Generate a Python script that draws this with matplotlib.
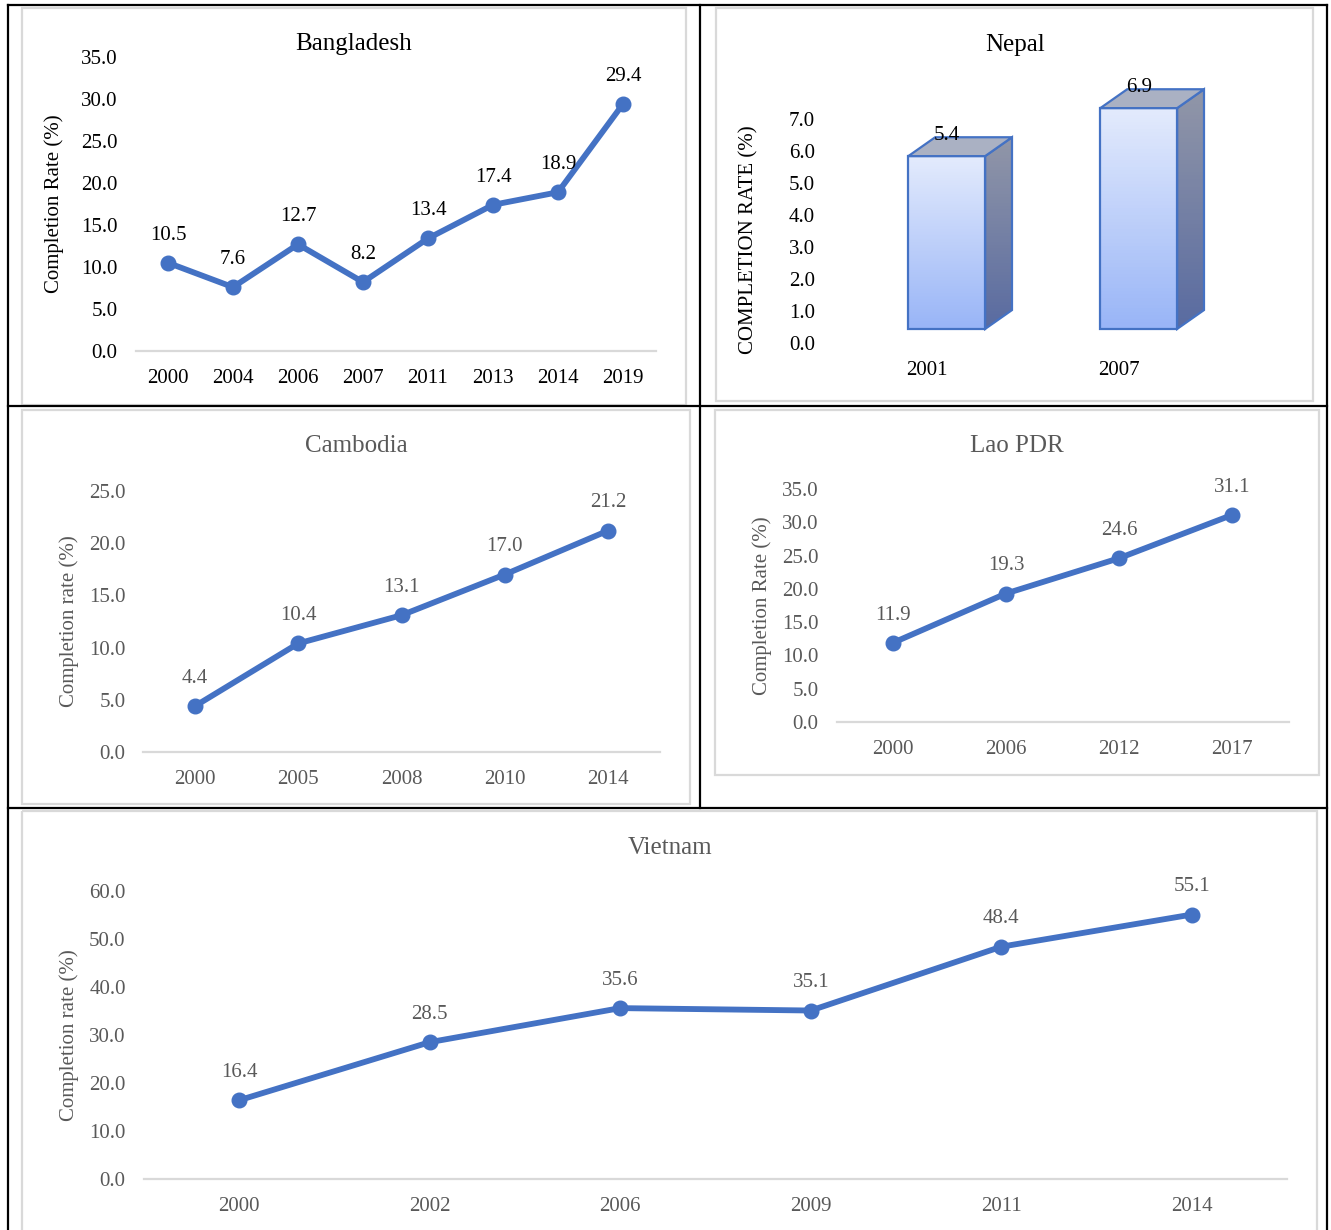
import numpy as np
import matplotlib.pyplot as plt
from matplotlib.patches import Polygon, Rectangle

plt.rcParams['font.family'] = ['Liberation Serif', 'DejaVu Serif']

W, H = 1331, 1230

# data
bd_years = ['2000', '2004', '2006', '2007', '2011', '2013', '2014', '2019']
bd_rate = [10.5, 7.6, 12.7, 8.2, 13.4, 17.4, 18.9, 29.4]
np_years = ['2001', '2007']
np_rate = [5.4, 6.9]
kh_years = ['2000', '2005', '2008', '2010', '2014']
kh_rate = [4.4, 10.4, 13.1, 17.0, 21.2]
la_years = ['2000', '2006', '2012', '2017']
la_rate = [11.9, 19.3, 24.6, 31.1]
vn_years = ['2000', '2002', '2006', '2009', '2011', '2014']
vn_rate = [16.4, 28.5, 35.6, 35.1, 48.4, 55.1]

BLUE = '#4472C4'
GRAY = '#595959'
GRID = '#d9d9d9'
FS = 15

fig = plt.figure(figsize=(W / 100, H / 100), dpi=100)
bg = fig.add_axes([0, 0, 1, 1], zorder=-1)
bg.set_xlim(0, W)
bg.set_ylim(H, 0)
bg.axis('off')


def px_axes(x0, y0, x1, y1):
    return fig.add_axes([x0 / W, 1 - y1 / H, (x1 - x0) / W, (y1 - y0) / H])


def line_panel(box, years, rate, ymax, step, title, ylabel, title_xy, ylab_x, col):
    ax = px_axes(*box)
    n = len(years)
    ax.set_facecolor('none')
    ax.set_xlim(-0.5, n - 0.5)
    ax.set_ylim(0, ymax)
    ax.axhline(0, color=GRID, lw=1.6, zorder=0, clip_on=False)
    ax.plot(range(n), rate, color=BLUE, lw=4.2, marker='o', ms=10.5,
            clip_on=False, solid_joinstyle='round', zorder=3)
    for i, v in enumerate(rate):
        ax.annotate(f'{v:.1f}', (i, v), xytext=(0, 20), textcoords='offset points',
                    ha='center', va='center', fontsize=FS, color=col)
    ticks = np.arange(0, ymax + 0.01, step)
    ax.set_yticks(ticks)
    ax.set_yticklabels([f'{t:.1f}' for t in ticks])
    ax.set_xticks(range(n))
    ax.set_xticklabels(years)
    ax.tick_params(axis='y', length=0, pad=13, labelsize=FS, labelcolor=col)
    ax.tick_params(axis='x', length=0, pad=13, labelsize=FS, labelcolor=col)
    for s in ax.spines.values():
        s.set_visible(False)
    bg.text(title_xy[0], title_xy[1], title, ha='center', va='center', fontsize=18, color=col)
    bg.text(ylab_x, (box[1] + box[3]) / 2, ylabel, rotation=90, ha='center', va='center',
            fontsize=FS, color=col)
    return ax


# table lines and chart frames
for x in (8, 1327):
    bg.plot([x, x], [5, H], color='black', lw=1.6)
for y in (5, 406, 808):
    bg.plot([8, 1327], [y, y], color='black', lw=1.6)
bg.plot([700, 700], [5, 808], color='black', lw=1.6)
for (x0, y0, x1, y1) in [(22, 8, 686, 405), (716, 8, 1313, 401), (22, 410, 690, 804),
                         (715, 410, 1319, 775), (22, 811, 1317, 1240)]:
    bg.add_patch(Rectangle((x0, y0), x1 - x0, y1 - y0, fill=False, edgecolor=GRID, lw=1.6))

line_panel((135.5, 57, 655.5, 351), bd_years, bd_rate, 35, 5, 'Bangladesh',
           'Completion Rate (%)', (354, 44), 54, 'black')
line_panel((143.4, 491, 659.6, 752), kh_years, kh_rate, 25, 5, 'Cambodia',
           'Completion rate (%)', (356, 446), 69, GRAY)
line_panel((836.5, 489, 1288.5, 722), la_years, la_rate, 35, 5, 'Lao PDR',
           'Completion Rate (%)', (1017, 446), 762, GRAY)
line_panel((143.7, 891, 1287.3, 1179), vn_years, vn_rate, 60, 10, 'Vietnam',
           'Completion rate (%)', (670, 848), 69, GRAY)

# Nepal 3D-style bars
ax = px_axes(820, 60, 1300, 360)
ax.set_facecolor('none')
xlim = (-0.66, 1.84)
ylim = (-0.531, 8.844)
base, w, dx, dy = 0.44, 0.40, 0.14, 0.59
front_grad = np.linspace([0.60, 0.71, 0.97], [0.89, 0.92, 0.99], 64)[:, None, :]
side_grad = np.linspace([0.35, 0.42, 0.63], [0.57, 0.59, 0.66], 64)[:, None, :]
for i, v in enumerate(np_rate):
    x0, x1 = i - w / 2, i + w / 2
    top = base + v
    im = ax.imshow(front_grad, extent=(x0, x1, base, top), aspect='auto', origin='lower', zorder=2)
    ax.add_patch(Rectangle((x0, base), w, v, fill=False, edgecolor=BLUE, lw=1.6, zorder=4))
    side = Polygon([(x1, base), (x1 + dx, base + dy), (x1 + dx, top + dy), (x1, top)],
                   closed=True, fill=False, edgecolor=BLUE, lw=1.6, zorder=4)
    ax.add_patch(side)
    ims = ax.imshow(side_grad, extent=(x1, x1 + dx, base, top + dy), aspect='auto',
                    origin='lower', zorder=2)
    ims.set_clip_path(side)
    ax.add_patch(Polygon([(x0, top), (x1, top), (x1 + dx, top + dy), (x0 + dx, top + dy)],
                         closed=True, facecolor='#aab1c3', edgecolor=BLUE, lw=1.6, zorder=4))
    ax.annotate(f'{v:.1f}', (i, top), xytext=(0, 15), textcoords='offset points',
                ha='center', va='center', fontsize=FS, color='black', zorder=5)
    ax.annotate(np_years[i], (i, 0), xytext=(-14.4, -19.5), textcoords='offset points',
                ha='center', va='center', fontsize=FS, color='black')
ax.set_xlim(*xlim)
ax.set_ylim(*ylim)
ax.set_yticks(range(0, 8))
ax.set_yticklabels([f'{t:.1f}' for t in range(0, 8)])
ax.set_xticks([])
ax.tick_params(axis='y', length=0, pad=3.6, labelsize=FS, labelcolor='black')
for s in ax.spines.values():
    s.set_visible(False)
bg.text(1015, 45, 'Nepal', ha='center', va='center', fontsize=18, color='black')
bg.text(749, 240, 'COMPLETION RATE (%)', rotation=90, ha='center', va='center',
        fontsize=FS, color='black')

fig.savefig('out.png', dpi=100)
